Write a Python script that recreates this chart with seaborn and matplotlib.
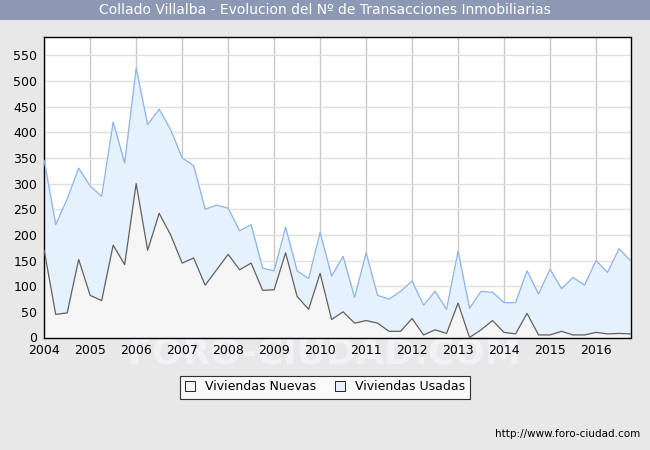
import numpy as np
import pandas as pd
import seaborn as sns
import matplotlib.pyplot as plt
from matplotlib.patches import Patch

years = list(range(2004, 2017))
total = [345, 220, 270, 330, 295, 275, 420, 340, 525, 415, 445, 405,
         350, 335, 250, 258, 252, 208, 220, 135, 130, 215, 130, 115,
         205, 120, 158, 78, 165, 82, 75, 90, 110, 63, 90, 55,
         168, 57, 90, 88, 68, 68, 130, 85, 133, 95, 117, 102,
         150, 127, 173, 150]
nuevas = [170, 45, 48, 152, 82, 72, 180, 142, 300, 170, 242, 200,
          145, 155, 102, 132, 162, 132, 145, 92, 93, 165, 80, 55,
          125, 35, 50, 28, 33, 28, 12, 12, 37, 5, 15, 8,
          67, 0, 15, 33, 10, 7, 47, 5, 5, 12, 5, 5,
          10, 7, 8, 7]

t = 2004 + np.arange(len(total)) / 4.0
df = pd.DataFrame({"t": t, "total": total, "nuevas": nuevas})

fig = plt.figure(figsize=(6.5, 4.5), dpi=100, facecolor="#e8e8e8")

# faint watermark behind everything, under the axis labels
fig.text(0.5, 0.215, "FORO-CIUDAD.COM", fontsize=26, color="#f2f2f6",
         ha="center", va="center", zorder=-5, weight="bold")

ax = fig.add_axes([0.068, 0.25, 0.902, 0.667])
ax.set_zorder(1)
ax.set_facecolor("white")

ax.fill_between(df["t"], df["nuevas"], df["total"], color="#e5f1fd", zorder=1)
ax.fill_between(df["t"], 0, df["nuevas"], color="#f5f5f5", zorder=1)
sns.lineplot(data=df, x="t", y="total", ax=ax, color="#8fb4ea", lw=0.9, zorder=3)
sns.lineplot(data=df, x="t", y="nuevas", ax=ax, color="#606060", lw=0.9, zorder=3)

ax.set_xlim(2004, 2016.75)
ax.set_ylim(0, 585)
ax.set_xticks(years)
ax.set_yticks(range(0, 551, 50))
ax.tick_params(labelsize=9, length=0, pad=5)
ax.set_xlabel("")
ax.set_ylabel("")
ax.grid(axis="x", color="#c8c8c8", lw=1, zorder=0)
ax.grid(axis="y", color="#e0e0e0", lw=1, zorder=0)
ax.set_axisbelow(True)
for s in ax.spines.values():
    s.set_color("black")
    s.set_linewidth(1)

title_ax = fig.add_axes([0, 0.955, 1, 0.045])
title_ax.set_facecolor("#8d99b4")
title_ax.set_xticks([]); title_ax.set_yticks([])
for s in title_ax.spines.values():
    s.set_visible(False)
title_ax.text(0.5, 0.5, "Collado Villalba - Evolucion del Nº de Transacciones Inmobiliarias",
              color="white", fontsize=10, ha="center", va="center")

handles = [Patch(facecolor="#f5f5f5", edgecolor="black", lw=0.6, label="Viviendas Nuevas"),
           Patch(facecolor="#e5f1fd", edgecolor="black", lw=0.6, label="Viviendas Usadas")]
leg = fig.legend(handles=handles, loc="center", bbox_to_anchor=(0.5, 0.14), ncol=2,
                 fontsize=9, frameon=True, fancybox=False, edgecolor="black",
                 handlelength=0.8, handleheight=0.8, columnspacing=1.5)
leg.get_frame().set_linewidth(0.8)

fig.text(0.985, 0.035, "http://www.foro-ciudad.com", fontsize=7.5, ha="right", va="center")

fig.savefig("out.png", dpi=100, facecolor=fig.get_facecolor())
